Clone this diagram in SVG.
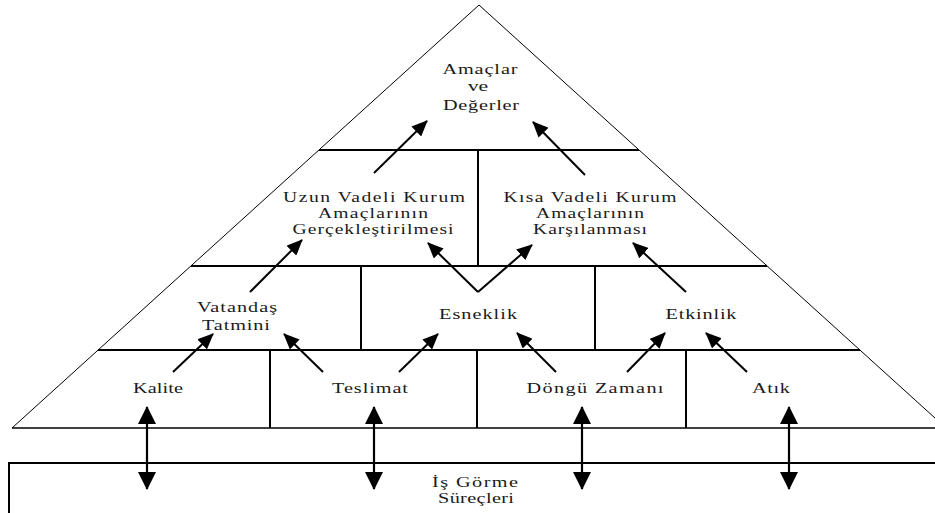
<svg xmlns="http://www.w3.org/2000/svg" width="935" height="513" viewBox="0 0 935 513">
<style>
text{font-family:"Liberation Serif","Times New Roman",serif;font-size:15px;fill:#1a1a1a;text-anchor:middle}
.sm{font-size:14px}
.edge{fill:none;stroke:#000;stroke-width:1}
.div{fill:none;stroke:#000;stroke-width:2}
.arr{fill:none;stroke:#000;stroke-width:2}
.dbl{fill:none;stroke:#000;stroke-width:2.2}
</style>
<defs>
<marker id="ah" viewBox="0 0 16 14" refX="15" refY="7" markerWidth="16" markerHeight="14" markerUnits="userSpaceOnUse" orient="auto">
<path d="M0,0 L16,7 L0,14 z" fill="#000"/>
</marker>
<marker id="bh" viewBox="0 0 18 18" refX="17" refY="9" markerWidth="18" markerHeight="18" markerUnits="userSpaceOnUse" orient="auto-start-reverse">
<path d="M0,0 L18,9 L0,18 z" fill="#000"/>
</marker>
</defs>
<rect width="935" height="513" fill="#fff"/>
<g id="frame">
<polyline class="edge" points="12,428 479,5 946,428"/>
<line x1="12" y1="428" x2="935" y2="428" stroke="#000" stroke-width="1.5"/>
<line class="div" x1="319" y1="150" x2="639" y2="150"/>
<line class="div" x1="191" y1="266" x2="767" y2="266"/>
<line class="div" x1="98" y1="350" x2="860" y2="350"/>
<line class="div" x1="478" y1="150" x2="478" y2="266"/>
<line class="div" x1="361" y1="266" x2="361" y2="350"/>
<line class="div" x1="595" y1="266" x2="595" y2="350"/>
<line class="div" x1="270" y1="350" x2="270" y2="428"/>
<line class="div" x1="477" y1="350" x2="477" y2="428"/>
<line class="div" x1="686" y1="350" x2="686" y2="428"/>
<polyline class="div" points="9,513 9,463 935,463"/>
</g>
<g id="amaclar">
<text transform="translate(480,74) scale(1.35,1)" textLength="55.6" lengthAdjust="spacing">Amaçlar</text>
<text transform="translate(478,91) scale(1.45,1)">ve</text>
<text transform="translate(481,110) scale(1.35,1)" textLength="56.3" lengthAdjust="spacing">Değerler</text>
</g>
<g id="uzun">
<text class="sm" transform="translate(374,202) scale(1.4,1)" textLength="130" lengthAdjust="spacing">Uzun Vadeli Kurum</text>
<text class="sm" transform="translate(373,218) scale(1.4,1)" textLength="78.6" lengthAdjust="spacing">Amaçlarının</text>
<text class="sm" transform="translate(373,234) scale(1.4,1)" textLength="115" lengthAdjust="spacing">Gerçekleştirilmesi</text>
</g>
<g id="kisa">
<text class="sm" transform="translate(590,202) scale(1.4,1)" textLength="123.6" lengthAdjust="spacing">Kısa Vadeli Kurum</text>
<text class="sm" transform="translate(590,218) scale(1.4,1)" textLength="77.1" lengthAdjust="spacing">Amaçlarının</text>
<text class="sm" transform="translate(590,234) scale(1.4,1)" textLength="81.4" lengthAdjust="spacing">Karşılanması</text>
</g>
<g id="vatandas">
<text transform="translate(237,312) scale(1.35,1)" textLength="59.3" lengthAdjust="spacing">Vatandaş</text>
<text transform="translate(236,330) scale(1.35,1)" textLength="50.4" lengthAdjust="spacing">Tatmini</text>
</g>
<g id="esneklik"><text transform="translate(478,319) scale(1.35,1)" textLength="57.8" lengthAdjust="spacing">Esneklik</text></g>
<g id="etkinlik"><text transform="translate(701,319) scale(1.35,1)" textLength="52.6" lengthAdjust="spacing">Etkinlik</text></g>
<g id="kalite"><text transform="translate(158,393) scale(1.35,1)" textLength="37" lengthAdjust="spacing">Kalite</text></g>
<g id="teslimat"><text transform="translate(370,393) scale(1.35,1)" textLength="56.3" lengthAdjust="spacing">Teslimat</text></g>
<g id="dongu"><text transform="translate(595,393) scale(1.35,1)" textLength="101.5" lengthAdjust="spacing">Döngü Zamanı</text></g>
<g id="atik"><text transform="translate(771,393) scale(1.35,1)" textLength="28.1" lengthAdjust="spacing">Atık</text></g>
<g id="is-gorme">
<text transform="translate(475,487) scale(1.35,1)" textLength="63.7" lengthAdjust="spacing">İş Görme</text>
<text transform="translate(476,503) scale(1.35,1)" textLength="56.3" lengthAdjust="spacing">Süreçleri</text>
</g>
<g id="connectors">
<line class="arr" x1="374" y1="173" x2="427" y2="121" marker-end="url(#ah)"/>
<line class="arr" x1="585" y1="175" x2="533" y2="122" marker-end="url(#ah)"/>
<line class="arr" x1="250" y1="292" x2="302" y2="240" marker-end="url(#ah)"/>
<line class="arr" x1="478" y1="292" x2="428" y2="243" marker-end="url(#ah)"/>
<line class="arr" x1="478" y1="292" x2="532" y2="245" marker-end="url(#ah)"/>
<line class="arr" x1="686" y1="292" x2="633" y2="243" marker-end="url(#ah)"/>
<line class="arr" x1="173" y1="372" x2="213" y2="334" marker-end="url(#ah)"/>
<line class="arr" x1="323" y1="372" x2="284" y2="334" marker-end="url(#ah)"/>
<line class="arr" x1="399" y1="372" x2="438" y2="334" marker-end="url(#ah)"/>
<line class="arr" x1="556" y1="372" x2="517" y2="333" marker-end="url(#ah)"/>
<line class="arr" x1="627" y1="372" x2="665" y2="333" marker-end="url(#ah)"/>
<line class="arr" x1="747" y1="372" x2="706" y2="333" marker-end="url(#ah)"/>
<line class="dbl" x1="147" y1="407" x2="147" y2="489" marker-start="url(#bh)" marker-end="url(#bh)"/>
<line class="dbl" x1="374" y1="407" x2="374" y2="489" marker-start="url(#bh)" marker-end="url(#bh)"/>
<line class="dbl" x1="582" y1="407" x2="582" y2="489" marker-start="url(#bh)" marker-end="url(#bh)"/>
<line class="dbl" x1="789" y1="407" x2="789" y2="489" marker-start="url(#bh)" marker-end="url(#bh)"/>
</g>
</svg>
